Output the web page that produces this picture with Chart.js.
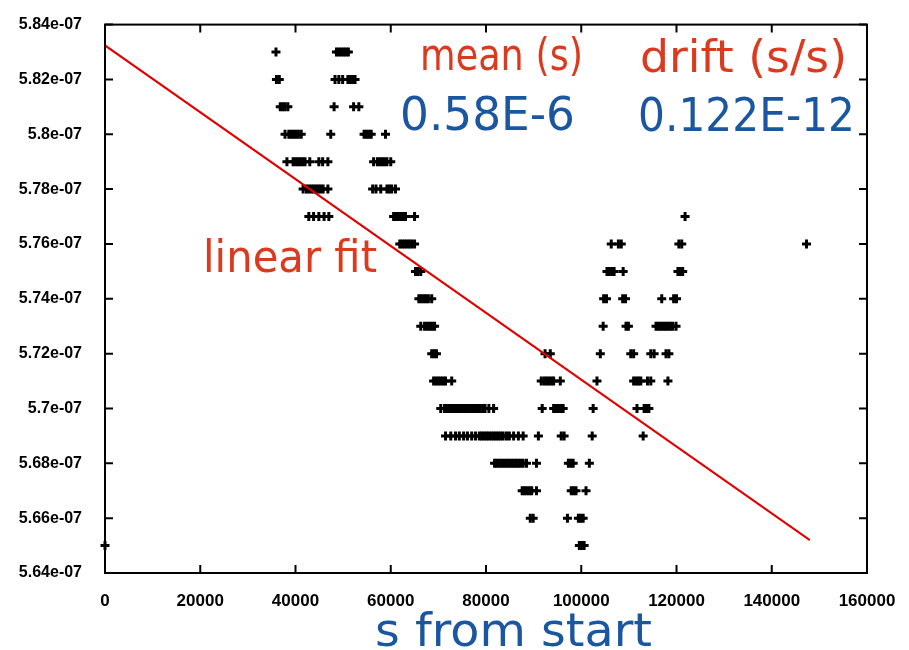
<!DOCTYPE html>
<html>
<head>
<meta charset="utf-8">
<script src="https://cdn.jsdelivr.net/npm/chart.js@4"></script>
<style>
  html, body { margin: 0; padding: 0; background: #fff; }
  #wrap { width: 909px; height: 650px; }
</style>
</head>
<body>
<div id="wrap"><canvas id="driftChart" width="909" height="650"></canvas></div>
<script>
// ---- data (x in units of 1000 s, y in units of 1e-07 s) ----
const levels = [5.83, 5.82, 5.81, 5.80, 5.79, 5.78, 5.77, 5.76, 5.75, 5.74,
                5.73, 5.72, 5.71, 5.70, 5.69, 5.68, 5.67, 5.66, 5.65];

const r583 = [35.9, 48.6, 49.1, 49.6, 50.1, 50.6, 51.1];
const r582 = [36.0, 36.6, 48.3, 49.1, 49.9, 51.0, 51.5, 52.0, 52.5];
const r581 = [36.8, 37.3, 37.8, 38.4, 48.1, 52.2, 53.3];
const r580 = [37.8, 38.6, 39.1, 39.6, 40.1, 40.6, 41.2, 47.4, 54.4, 54.9, 55.4, 55.9, 58.9];
const r579 = [38.2, 39.5, 40.0, 40.5, 41.0, 41.5, 42.0, 43.0, 44.9, 45.7, 46.8,
              56.4, 57.2, 57.7, 58.2, 58.7, 59.2, 60.0];
const r578 = [41.6, 42.3, 42.8, 43.3, 43.8, 44.3, 44.8, 45.3, 45.8, 46.8,
              56.2, 56.9, 57.9, 59.2, 59.7, 60.2, 61.0];
const r577 = [42.8, 43.8, 44.9, 46.0, 47.0, 60.6, 61.1, 61.6, 62.1, 62.6, 63.1, 65.0, 121.8];
const r576 = [61.9, 62.4, 62.9, 63.4, 63.9, 64.4, 65.0, 106.3, 107.8, 108.4, 120.5, 121.1, 147.3];
const r575 = [65.2, 65.7, 66.3, 105.4, 105.9, 106.4, 106.9, 108.8, 120.3, 120.8, 121.3];
const r574 = [65.9, 66.4, 66.9, 67.4, 67.9, 68.6, 104.7, 105.3, 108.7, 109.3, 116.9, 119.4, 120.0];
const r573 = [66.3, 67.1, 67.7, 68.2, 68.7, 69.2, 104.6, 109.4, 109.9,
              115.7, 116.2, 116.7, 117.2, 117.7, 118.2, 118.7, 119.2, 119.9];
const r572 = [68.6, 69.1, 69.6, 92.4, 93.5, 104.0, 110.4, 111.0, 114.6, 115.3, 117.8, 118.4];
const r571 = [69.0, 69.5, 70.0, 70.5, 71.0, 71.5, 72.8, 91.6, 92.2, 92.7, 93.2, 93.7, 94.2, 95.6, 103.3,
              111.0, 111.5, 112.0, 112.5, 113.9, 114.6, 118.2];
const r570 = [70.5, 71.3, 71.8, 72.3, 72.8, 73.3, 73.8, 74.3, 74.8, 75.3, 75.8, 76.3, 76.8, 77.3,
              77.8, 78.3, 78.8, 79.3, 79.8, 80.6, 81.6,
              91.8, 94.2, 94.7, 95.2, 95.7, 96.2, 102.5, 111.7, 113.2, 113.7, 114.2];
const r569 = [71.5, 72.6, 73.6, 74.4, 75.3, 76.1, 77.0, 77.8, 78.6, 79.1, 79.6, 80.1, 80.6, 81.1,
              81.6, 82.1, 82.6, 83.1, 83.6, 84.3, 84.9, 85.8, 86.8, 87.8, 91.0, 95.8, 96.4, 102.3, 113.0];
const r568 = [81.8, 82.3, 82.8, 83.3, 83.8, 84.3, 84.8, 85.3, 85.8, 86.3, 86.8, 87.3, 87.8, 88.5,
              90.6, 97.3, 97.8, 98.3, 101.7];
const r567 = [87.6, 88.1, 88.6, 89.1, 89.6, 90.6, 97.9, 98.4, 98.9, 101.0];
const r566 = [89.3, 89.9, 97.1, 99.4, 99.9, 100.4];
const r565 = [0, 99.6, 100.1, 100.6];

const rows = [r583, r582, r581, r580, r579, r578, r577, r576, r575, r574,
              r573, r572, r571, r570, r569, r568, r567, r566, r565];

// linear fit end points
const fitX = [0, 148000];
const fitY = [5.8324, 5.652];

const xTicks = [0, 20000, 40000, 60000, 80000, 100000, 120000, 140000, 160000];

const points = rows.flatMap((r, i) => r.map(xk => ({ x: xk * 1000, y: levels[i] })));
const fitLine = fitX.map((x, i) => ({ x: x, y: fitY[i] }));

// ---- frame with inward ticks (gnuplot style) + slide annotations ----
function fitText(ctx, text, left, right, baseline, size, color) {
  ctx.font = size + 'px "DejaVu Sans"';
  const w = ctx.measureText(text).width;
  ctx.save();
  ctx.translate(left, baseline);
  ctx.scale((right - left) / w, 1);
  ctx.fillStyle = color;
  ctx.textBaseline = 'alphabetic';
  ctx.textAlign = 'left';
  ctx.fillText(text, 0, 0);
  ctx.restore();
}

const framePlugin = {
  id: 'frame',
  afterDraw(chart) {
    const ctx = chart.ctx;
    const a = chart.chartArea;
    const xs = chart.scales.x, ys = chart.scales.y;
    const len = 8;
    ctx.save();
    ctx.strokeStyle = '#000';
    ctx.lineWidth = 2;
    ctx.strokeRect(a.left, a.top, a.right - a.left, a.bottom - a.top);
    ctx.beginPath();
    xs.ticks.forEach(t => {
      const px = xs.getPixelForValue(t.value);
      ctx.moveTo(px, a.bottom); ctx.lineTo(px, a.bottom - len);
      ctx.moveTo(px, a.top); ctx.lineTo(px, a.top + len);
    });
    ys.ticks.forEach(t => {
      const py = ys.getPixelForValue(t.value);
      ctx.moveTo(a.left, py); ctx.lineTo(a.left + len, py);
      ctx.moveTo(a.right, py); ctx.lineTo(a.right - len, py);
    });
    ctx.stroke();
    ctx.restore();

    const red = '#dc3a1e', blue = '#1b57a0';
    fitText(ctx, 'mean (s)', 420, 583, 70, 44, red);
    fitText(ctx, 'drift (s/s)', 640, 847, 72, 44, red);
    fitText(ctx, '0.58E-6', 400, 575, 130, 46, blue);
    fitText(ctx, '0.122E-12', 638, 855, 131, 47, blue);
    fitText(ctx, 'linear fit', 203, 377, 272, 44, red);
    fitText(ctx, 's from start', 375, 652, 646, 46, blue);
  }
};

const ctx = document.getElementById('driftChart').getContext('2d');

new Chart(ctx, {
  data: {
    datasets: [
      {
        type: 'line',
        label: 'linear fit',
        data: fitLine,
        borderColor: '#e00000',
        borderWidth: 2,
        pointRadius: 0,
        fill: false,
        order: 0
      },
      {
        type: 'scatter',
        label: 'offset',
        data: points,
        pointStyle: 'cross',
        pointRadius: 4.5,
        borderWidth: 3,
        borderColor: '#000',
        backgroundColor: '#000',
        clip: false,
        order: 1
      }
    ]
  },
  options: {
    responsive: false,
    animation: false,
    layout: { padding: { top: 16, right: 42, left: 0, bottom: 0 } },
    plugins: {
      legend: { display: false },
      tooltip: { enabled: false }
    },
    scales: {
      x: {
        type: 'linear',
        min: 0,
        max: 160000,
        afterBuildTicks: s => { s.ticks = xTicks.map(v => ({ value: v })); },
        afterFit: s => { s.height = 77; },
        grid: { display: false },
        border: { display: false },
        ticks: {
          color: '#000',
          font: { family: 'Liberation Sans', size: 17, weight: 'bold' },
          padding: 10,
          maxRotation: 0,
          autoSkip: false,
          callback: v => String(v)
        }
      },
      y: {
        type: 'linear',
        min: 5.64,
        max: 5.84,
        afterFit: s => { s.width = 105; },
        grid: { display: false },
        border: { display: false },
        ticks: {
          stepSize: 0.02,
          color: '#000',
          font: { family: 'Liberation Sans', size: 16, weight: 'bold' },
          padding: 15,
          callback: v => (Math.round(v * 100) / 100) + 'e-07'
        }
      }
    }
  },
  plugins: [framePlugin]
});
</script>
</body>
</html>
